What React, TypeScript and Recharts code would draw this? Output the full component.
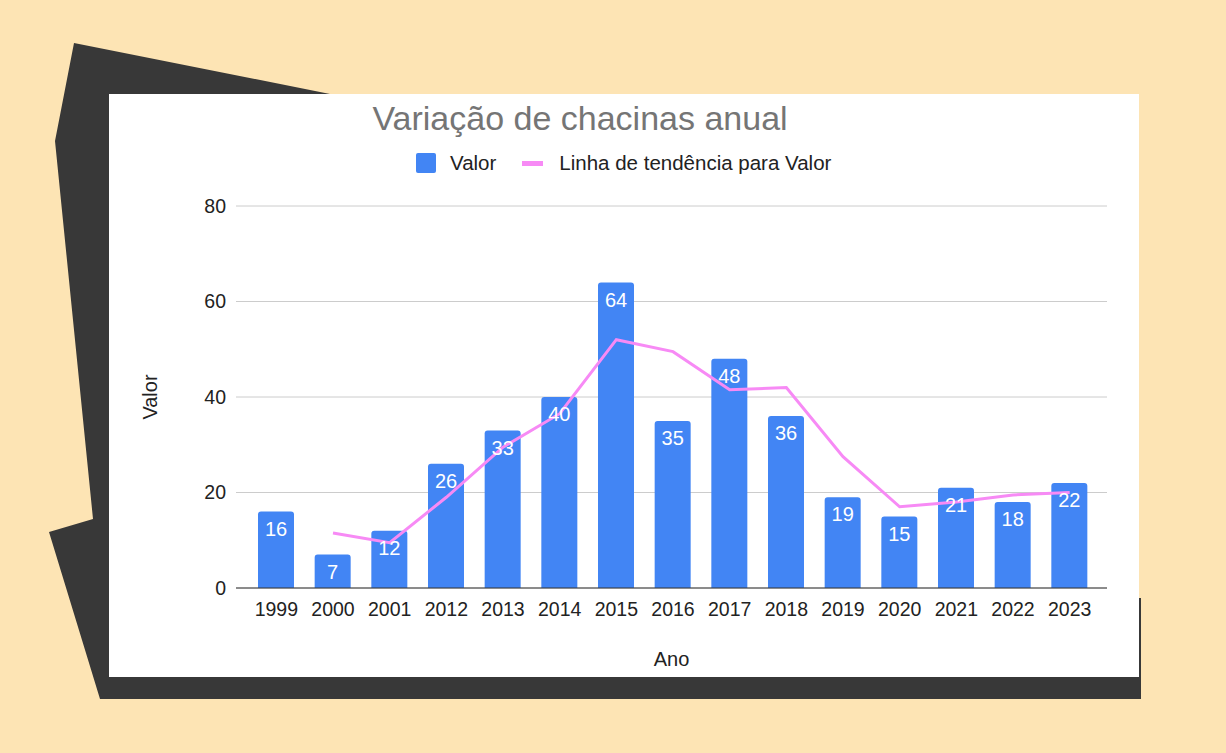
import React from 'react';
import {
  ComposedChart, Bar, Line, XAxis, YAxis, CartesianGrid, Legend, LabelList,
} from 'recharts';

const years = ['1999', '2000', '2001', '2012', '2013', '2014', '2015', '2016', '2017', '2018', '2019', '2020', '2021', '2022', '2023'];
const valores = [16, 7, 12, 26, 33, 40, 64, 35, 48, 36, 19, 15, 21, 18, 22];
// trend line (first year has no point)
const tendencia = [null, 11.5, 9.5, 19, 29.5, 36.5, 52, 49.5, 41.5, 42, 27.5, 17, 18, 19.5, 20];
const yTicks = [0, 20, 40, 60, 80];

const data = years.map((ano, i) => ({ ano, valor: valores[i], tendencia: tendencia[i] }));

const FONT = '"Liberation Sans", Arial, sans-serif';
const BLUE = '#4285f4';
const PINK = '#f78af5';

const LegendContent = () => (
  <div style={{ display: 'flex', alignItems: 'center', fontFamily: FONT, fontSize: 20.5, color: '#222', whiteSpace: 'nowrap', height: 20 }}>
    <span style={{ width: 20, height: 20, background: BLUE, borderRadius: 2, display: 'inline-block' }} />
    <span style={{ marginLeft: 14 }}>Valor</span>
    <span style={{ width: 21, height: 5, background: PINK, display: 'inline-block', marginLeft: 26 }} />
    <span style={{ marginLeft: 16 }}>Linha de tendência para Valor</span>
  </div>
);

const App: React.FC = () => {
  return (
    <div style={{ position: 'absolute', left: 0, top: 0, width: 1226, height: 753, background: '#fde4b4', overflow: 'hidden' }}>
      <svg width={1226} height={753} style={{ position: 'absolute', left: 0, top: 0 }}>
        <polygon
          points="74,43 330,94 1000,94 1000,598 1141,598 1141,699 100,699 49,532 93,519 55,141"
          fill="#383838"
        />
      </svg>
      <div style={{ position: 'absolute', left: 109, top: 94, width: 1030, height: 583, background: '#fff' }}>
        <ComposedChart
          width={1030}
          height={583}
          data={data}
          margin={{ top: 112, right: 32, bottom: 0, left: 0 }}
        >
          <CartesianGrid vertical={false} stroke="#cccccc" />
          <XAxis
            dataKey="ano"
            height={89}
            padding={{ left: 12, right: 9 }}
            tickLine={false}
            tickMargin={8}
            axisLine={{ stroke: '#333' }}
            tick={{ fill: '#222', fontSize: 19.5, fontFamily: FONT }}
            interval={0}
            label={{ value: 'Ano', position: 'insideBottom', offset: 11, fill: '#222', fontSize: 20, fontFamily: FONT }}
          />
          <YAxis
            width={127}
            domain={[0, 80]}
            ticks={yTicks}
            tickLine={false}
            axisLine={false}
            tickMargin={4}
            tick={{ fill: '#222', fontSize: 19.5, fontFamily: FONT }}
            label={{ value: 'Valor', angle: -90, position: 'insideLeft', offset: 41, fill: '#222', fontSize: 20, fontFamily: FONT, style: { textAnchor: 'middle' } }}
          />
          <Legend
            layout="vertical"
            align="center"
            verticalAlign="middle"
            content={LegendContent}
            wrapperStyle={{ top: 59, left: 307, width: 'auto', height: 20 }}
          />
          <Bar dataKey="valor" name="Valor" fill={BLUE} barSize={36} radius={[3, 3, 0, 0]} isAnimationActive={false}>
            <LabelList dataKey="valor" position="insideTop" offset={10} fill="#fff" fontSize={20} fontFamily={FONT} />
          </Bar>
          <Line
            dataKey="tendencia"
            name="Linha de tendência para Valor"
            type="linear"
            stroke={PINK}
            strokeWidth={3}
            dot={false}
            activeDot={false}
            isAnimationActive={false}
          />
        </ComposedChart>
      </div>
      <div
        style={{
          position: 'absolute', left: 580, top: 101, transform: 'translateX(-50%)',
          fontFamily: FONT, fontSize: 34, lineHeight: 1, color: '#757575', whiteSpace: 'nowrap',
        }}
      >
        Variação de chacinas anual
      </div>
    </div>
  );
};

export default App;
